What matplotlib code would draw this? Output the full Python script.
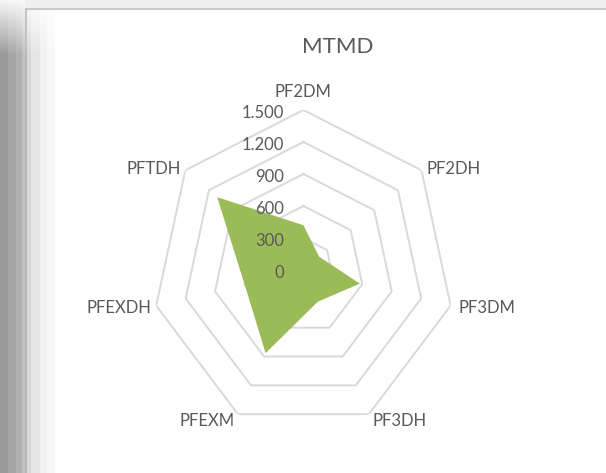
import numpy as np
import matplotlib
matplotlib.use("Agg")
import matplotlib.pyplot as plt

# --- datos ---
categorias = ["PF2DM", "PF2DH", "PF3DM", "PF3DH", "PFEXM", "PFEXDH", "PFTDH"]
valores = [420, 200, 575, 330, 865, 600, 1095]
niveles = [0, 300, 600, 900, 1200, 1500]
titulo = "MTMD"

# --- estilo ---
GRIS_TEXTO = "#595959"
GRIS_REJILLA = "#D9D9D9"
VERDE = "#9BBB59"
W, H, DPI = 606, 473, 100
plt.rcParams["font.family"] = ["Lato", "DejaVu Sans"]

# desplazamientos (px) de las etiquetas respecto al vértice exterior
desp_etiquetas = [(0, 18, "center"), (5.5, 1.7, "left"), (7.4, -2.4, "left"),
                  (4, -7, "left"), (-3.3, -7, "right"), (-5.2, -2.4, "right"),
                  (-4.8, 1.7, "right")]

fig = plt.figure(figsize=(W / DPI, H / DPI), dpi=DPI)
fig.patch.set_facecolor("white")

# sombra de la ventana a la izquierda y arriba
fondo = np.full((H, W), 255.0)
perfil = [(0, 8, 154), (8, 16, 165), (16, 22, 176), (22, 25, 192),
          (25, 27, 184), (27, 31, 216), (31, 40, 230), (40, 47, 240), (47, 55, 248)]
rampa = np.clip((np.arange(H) + 5) / 60.0, 0, 1)[:, None]
for x0, x1, v in perfil:
    fondo[:, x0:x1] = 255 - (255 - v) * rampa
fondo[0:8, 25:] = np.minimum(fondo[0:8, 25:], 240)
fondo[8:10, 25:] = 200
fondo[8:, 25:27] = np.minimum(fondo[8:, 25:27], 195)
fondo = np.repeat(fondo[:, :, None], 3, axis=2).astype(np.uint8)
fig.figimage(fondo, xo=0, yo=0, origin="upper", zorder=-10)

# eje polar estirado (el gráfico original no es circular)
cx, cy, rx, ry = 303.4, 270.0, 151.0, 160.0
ax = fig.add_axes([(cx - rx) / W, (H - cy - ry) / H, 2 * rx / W, 2 * ry / H],
                  projection="polar")
ax.set_zorder(5)
ax.set_theta_zero_location("N")
ax.set_theta_direction(-1)
ax.set_ylim(0, niveles[-1])
ax.set_aspect("auto")
ax.grid(False)
ax.set_xticks([])
ax.set_yticks([])
ax.spines["polar"].set_visible(False)
ax.patch.set_visible(False)

n = len(categorias)
theta = np.linspace(0, 2 * np.pi, n, endpoint=False)
theta_c = np.append(theta, theta[0])

# anillos heptagonales
for nv in niveles[1:]:
    ax.plot(theta_c, [nv] * (n + 1), color=GRIS_REJILLA, lw=1.4, zorder=1)

# área rellena
ax.fill(theta_c, valores + valores[:1], color=VERDE, lw=0, zorder=2)

# etiquetas de categoría
for t, nombre, (dx, dy, ha) in zip(theta, categorias, desp_etiquetas):
    ax.annotate(nombre, xy=(t, niveles[-1]), xytext=(dx, dy),
                textcoords="offset pixels", ha=ha, va="center",
                fontsize=12, color=GRIS_TEXTO, annotation_clip=False, zorder=3)

# etiquetas de valor
for nv in niveles:
    ax.annotate(f"{nv:,}".replace(",", "."), xy=(0, nv), xytext=(-19.4, -2.5),
                textcoords="offset pixels", ha="right", va="center",
                fontsize=12, color=GRIS_TEXTO, annotation_clip=False, zorder=3)

fig.text(338 / W, 1 - 47 / H, titulo, ha="center", va="center",
         fontsize=16, color=GRIS_TEXTO)

fig.savefig("out.png", dpi=DPI)
